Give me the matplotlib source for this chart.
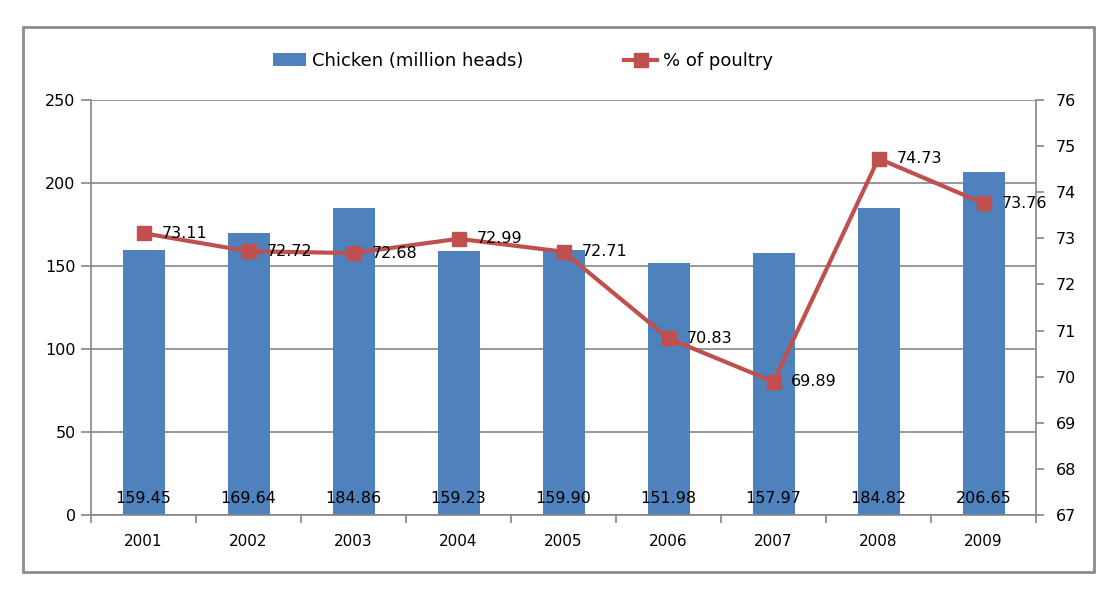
import matplotlib
matplotlib.use("Agg")
import matplotlib.pyplot as plt
from matplotlib.patches import Rectangle
import numpy as np

years = ["2001", "2002", "2003", "2004", "2005", "2006", "2007", "2008", "2009"]
chicken = [159.45, 169.64, 184.86, 159.23, 159.90, 151.98, 157.97, 184.82, 206.65]
poultry_pct = [73.11, 72.72, 72.68, 72.99, 72.71, 70.83, 69.89, 74.73, 73.76]

BAR_C = "#4F81BD"
LINE_C = "#C0504D"
GRID_C = "#868686"

plt.rcParams.update({"font.family": "DejaVu Sans", "font.size": 11})

fig = plt.figure(figsize=(11.09, 6.0), dpi=100)
fig.patches.append(Rectangle((23 / 1109, 1 - 572 / 600), (1094 - 23) / 1109, (572 - 27) / 600,
                             transform=fig.transFigure, fill=False,
                             edgecolor="#8C8C8C", linewidth=2))

ax = fig.add_axes([91 / 1109, 1 - 515 / 600, (1036 - 91) / 1109, (515 - 100) / 600])
x = np.arange(len(years))

ax.bar(x, chicken, width=0.4, color=BAR_C, zorder=2, label="Chicken (million heads)")
for xi, v in zip(x, chicken):
    ax.text(xi, 10, f"{v:.2f}", ha="center", va="center", fontsize=11.5, zorder=5)

ax.set_ylim(0, 250)
ax.set_xlim(-0.5, len(years) - 0.5)
ax.set_yticks(range(0, 251, 50))
ax.grid(axis="y", color=GRID_C, linewidth=1.2, zorder=0)
ax.set_xticks(x)
ax.set_xticklabels(years)
ax.set_xticks(np.arange(-0.5, len(years)), minor=True)
ax.tick_params(axis="x", which="major", length=0, pad=14)
ax.tick_params(axis="x", which="minor", length=6, width=1.2, color=GRID_C)
ax.tick_params(axis="y", length=7, width=1.2, color=GRID_C, pad=4, labelsize=11.5)
for s in ["top", "right"]:
    ax.spines[s].set_visible(False)
for s in ["left", "bottom"]:
    ax.spines[s].set_color(GRID_C)
    ax.spines[s].set_linewidth(1.2)

ax2 = ax.twinx()
ax2.plot(x, poultry_pct, color=LINE_C, linewidth=3, marker="s", markersize=10,
         zorder=4, label="% of poultry")
for xi, v in zip(x, poultry_pct):
    ax2.text(xi + 0.17, v, f"{v:.2f}", ha="left", va="center", fontsize=11.5, zorder=5)
ax2.set_ylim(67, 76)
ax2.set_yticks(range(67, 77))
ax2.tick_params(axis="y", length=6, width=1.2, color=GRID_C, pad=8, labelsize=11.5)
for s in ["top", "left", "bottom"]:
    ax2.spines[s].set_visible(False)
ax2.spines["right"].set_color(GRID_C)
ax2.spines["right"].set_linewidth(1.2)

h1, l1 = ax.get_legend_handles_labels()
h2, l2 = ax2.get_legend_handles_labels()
fig.legend(h1 + h2, l1 + l2, loc="center", bbox_to_anchor=(0.4716, 1 - 61 / 600),
           ncol=2, frameon=False, fontsize=13, columnspacing=5.6, handlelength=1.83,
           handletextpad=0.3)

fig.savefig("out.png", dpi=100, facecolor="white")
